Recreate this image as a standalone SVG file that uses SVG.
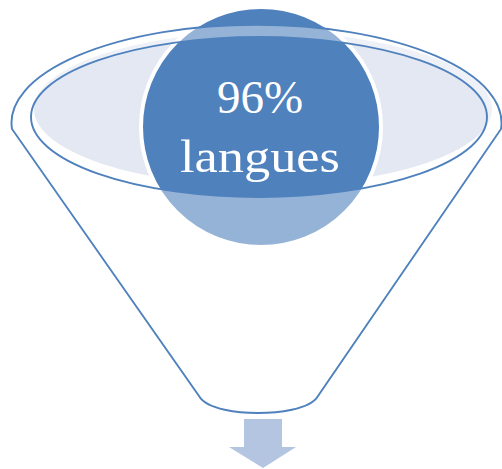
<svg xmlns="http://www.w3.org/2000/svg" width="502" height="469" viewBox="0 0 502 469">
  <style>
    .line { fill: none; stroke: #4F81BD; stroke-width: 1.9; }
    .label { font-family: "Liberation Serif", "Times New Roman", serif; font-size: 47px; fill: #FFFFFF; text-anchor: middle; }
  </style>
  <rect width="502" height="469" fill="#FFFFFF"/>
  <g id="funnel-back">
    <ellipse cx="263" cy="109" rx="229" ry="77" fill="#E3E8F2"/>
  </g>
  <g id="circle-node">
    <circle cx="261" cy="127" r="120" fill="#4F81BD" stroke="#FFFFFF" stroke-width="4"/>
  </g>
  <g id="funnel">
    <path fill="#FFFFFF" fill-opacity="0.4" fill-rule="evenodd" d="M 12,129 A 245 98 0 1 1 501,129 L 318,396 C 310,410 276,413 258,413 C 240,413 207,410 199,396 Z M 31,117 A 228 80 0 1 0 487,117 A 228 80 0 1 0 31,117 Z"/>
    <path class="line" d="M 12,129 A 245 98 0 1 1 501,129 L 318,396 C 310,410 276,413 258,413 C 240,413 207,410 199,396 Z"/>
    <ellipse class="line" cx="259" cy="117" rx="228" ry="80"/>
  </g>
  <g id="label">
    <text class="label" x="260" y="113">96%</text>
    <text class="label" x="260" y="172" textLength="160" lengthAdjust="spacingAndGlyphs">langues</text>
  </g>
  <g id="connectors">
    <path d="M 244,419 L 282,419 L 282,447 L 296,447 L 263,468 L 229,447 L 244,447 Z" fill="#B4C5E1"/>
  </g>
</svg>
